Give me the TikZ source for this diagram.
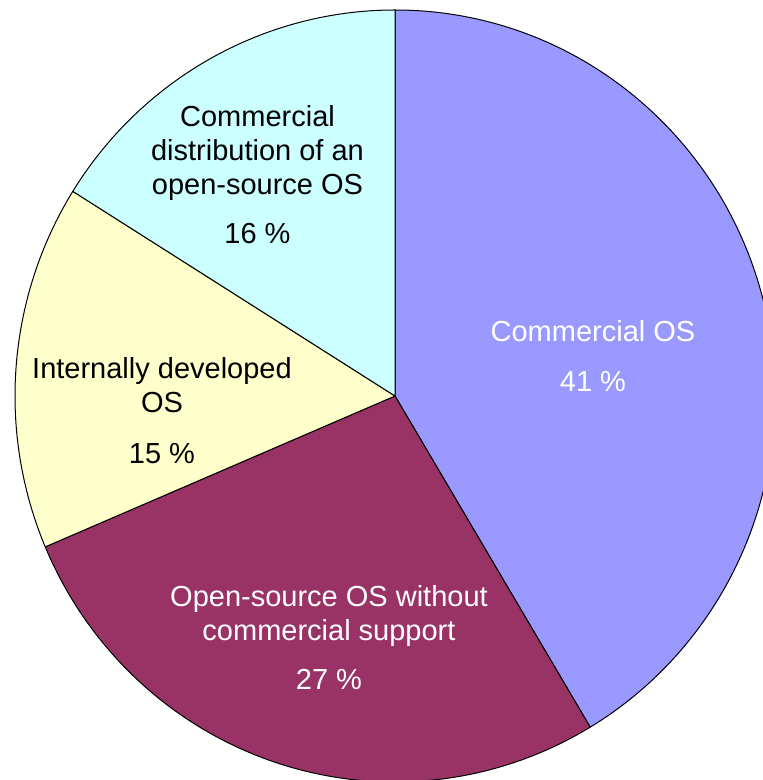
\documentclass[tikz,border=0pt]{standalone}
\usepackage{fontspec}
\setmainfont{Liberation Sans}
\definecolor{commc}{HTML}{9999FF}
\definecolor{openc}{HTML}{993366}
\definecolor{intc}{HTML}{FFFFCC}
\definecolor{distc}{HTML}{CCFFFF}
\begin{document}
\begin{tikzpicture}[x=1pt,y=1pt,
  wedge/.style={draw=black,line width=1pt,line join=round},
  lbl/.style={inner sep=0pt,anchor=base,font=\fontsize{29}{34}\selectfont},
  wlbl/.style={lbl,text=white},
  blbl/.style={lbl,text=black}]
\useasboundingbox (0,0) rectangle (763,780);
\clip (0,0) rectangle (763,780);
\coordinate (C) at (395,384);
% Commercial OS
\filldraw[wedge,fill=commc] (C) -- ++(90:380 and 386)
  arc[start angle=90,end angle=-59.09,x radius=380,y radius=386] -- cycle;
% Open-source OS without commercial support
\filldraw[wedge,fill=openc] (C) -- ++(-59.09:380 and 386)
  arc[start angle=-59.09,end angle=-156.99,x radius=380,y radius=386] -- cycle;
% Internally developed OS
\filldraw[wedge,fill=intc] (C) -- ++(-156.99:380 and 386)
  arc[start angle=-156.99,end angle=-212.02,x radius=380,y radius=386] -- cycle;
% Commercial distribution of an open-source OS
\filldraw[wedge,fill=distc] (C) -- ++(147.98:380 and 386)
  arc[start angle=147.98,end angle=90,x radius=380,y radius=386] -- cycle;
% labels
\node[blbl] (d1) at (257.5,653.3) {Commercial};
\node[blbl] (d2) at (257.5,619.3) {distribution of an};
\node[blbl] (d3) at (257.5,585.6) {open-source OS};
\node[blbl] (d4) at (257.5,536) {16 \%};
\node[wlbl] (c1) at (593,438) {Commercial OS};
\node[wlbl] (c2) at (593,388) {41 \%};
\node[blbl] (i1) at (162,401) {Internally developed};
\node[blbl] (i2) at (162,367) {OS};
\node[blbl] (i3) at (162,316) {15 \%};
\node[wlbl] (o1) at (329,173.3) {Open-source OS without};
\node[wlbl] (o2) at (329,139) {commercial support};
\node[wlbl] (o3) at (329,90.5) {27 \%};
\end{tikzpicture}
\end{document}
